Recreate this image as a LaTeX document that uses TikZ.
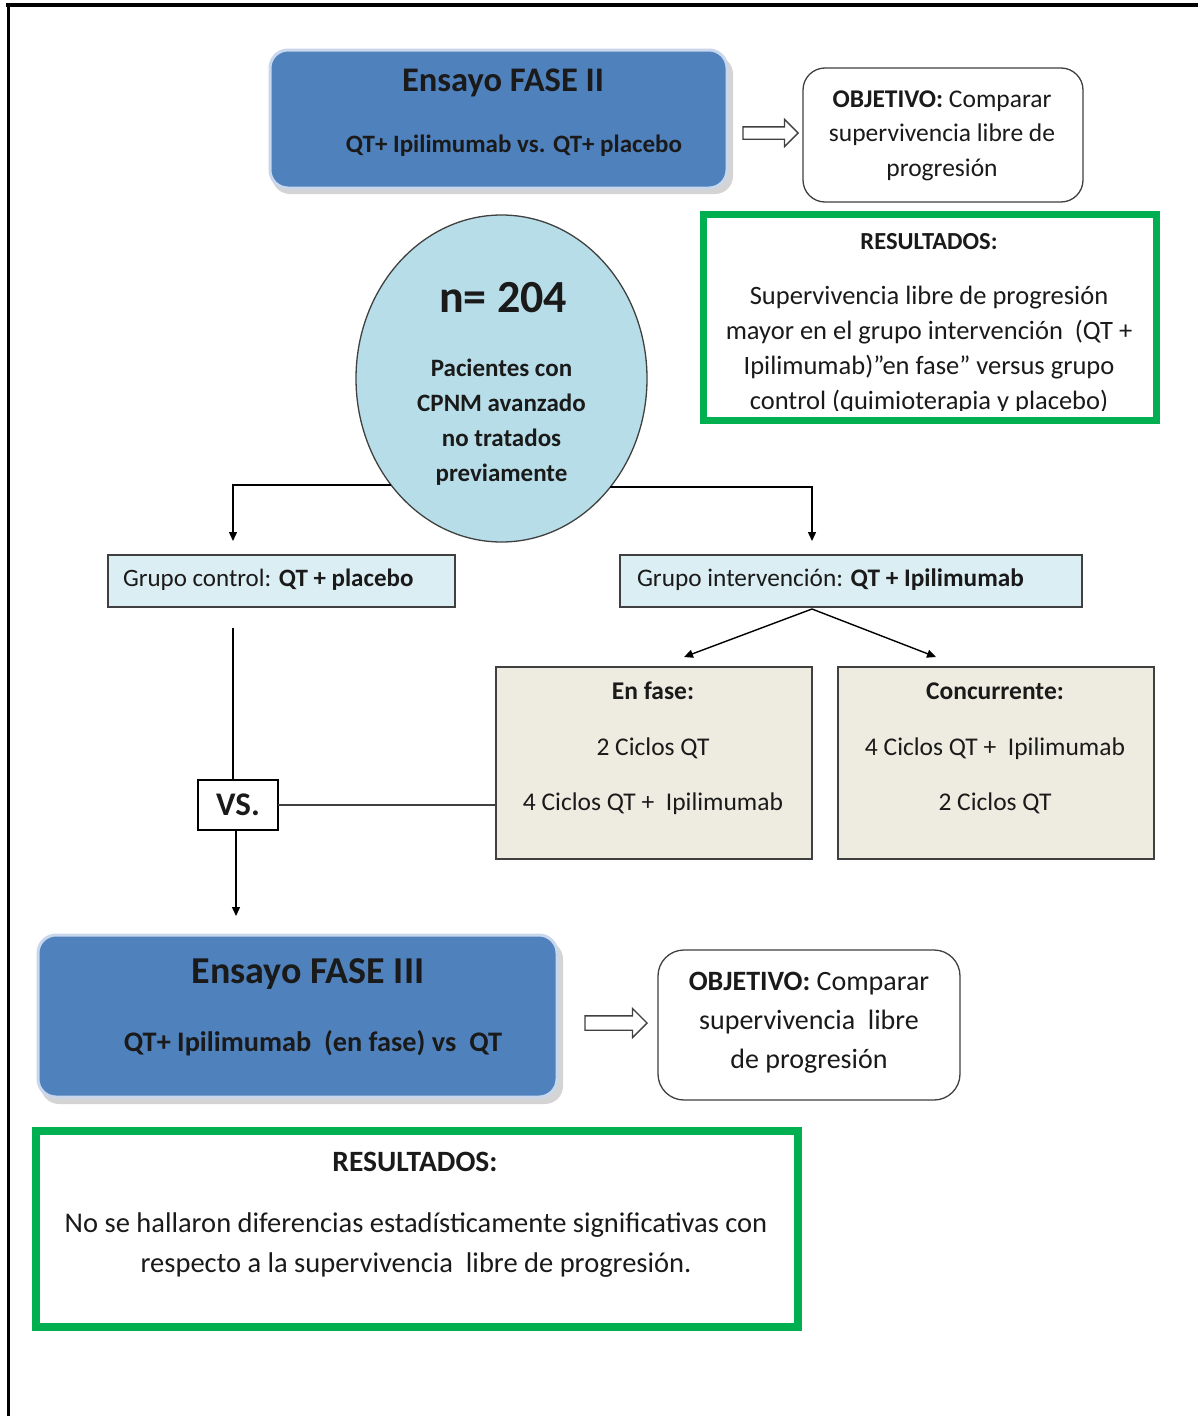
\documentclass[tikz,border=0pt]{standalone}
\usepackage{fontspec}
\setmainfont{Carlito}
\usetikzlibrary{arrows.meta,shapes.geometric,shapes.arrows,calc}
\definecolor{boxblue}{HTML}{4F81BD}
\definecolor{boxblueedge}{HTML}{C9D7EC}
\definecolor{shadowgray}{HTML}{D4D4D4}
\definecolor{okgreen}{HTML}{00B050}
\definecolor{circfill}{HTML}{B7DEE8}
\definecolor{grpfill}{HTML}{DBEEF4}
\definecolor{beige}{HTML}{EEECE1}
\definecolor{edgegray}{HTML}{404040}
\definecolor{txt}{HTML}{1A1A1A}
\newcommand{\fs}[2]{\fontsize{#1}{#2}\selectfont}
\begin{document}
\begin{tikzpicture}[x=1pt,y=-1pt,
  every node/.style={text=txt, inner sep=0pt, outer sep=0pt},
  bluebox/.style={draw=boxblueedge, line width=3, fill=boxblue, rounded corners=18, minimum width=#1},
  objbox/.style={draw=edgegray, line width=1.3, fill=white, rounded corners=22},
  greenbox/.style={draw=okgreen, line width=7},
  grpbox/.style={draw=edgegray, line width=1.2, fill=grpfill},
  beigebox/.style={draw=edgegray, line width=1.6, fill=beige, minimum width=316, minimum height=192},
  hollow/.style={shape=single arrow, draw=edgegray, line width=1.3, fill=white, single arrow head extend=7.5, inner xsep=0pt, inner ysep=5.5pt},
  conn/.style={draw=black, line width=1.4},
  tip/.style={-{Triangle[length=9,width=8]}}
]
\useasboundingbox (0,0) rectangle (1198,1416);
\fill[white] (0,0) rectangle (1198,1416);
% frame
\draw[line width=4] (6,5) -- (1198,5);
\draw[line width=3] (8,3) -- (8,1416);

% ---------- Phase II box ----------
\fill[shadowgray, rounded corners=18] (272,56) rectangle (733,194);
\node[bluebox=457, minimum height=138] (f2) at (498.5,119) {};
\node[font=\bfseries\fs{34.5}{38}] (f2t) at (503,83) {Ensayo FASE II};
\node[font=\bfseries\fs{25}{28}] (f2s) at (514,146) {QT+ Ipilimumab vs. QT+ placebo};

% objective 1
\node[objbox, minimum width=280, minimum height=134] (o1) at (943,135) {};
\node[font=\fs{25.5}{34.5}, align=center] (o1t) at (942,135.5) {\textbf{OBJETIVO:} Comparar\\supervivencia libre de\\progresión};
\node[hollow, minimum height=55] (a1) at (767.5,133) {};

% results 1
\begin{scope}
\clip (707,215) rectangle (1152,410);
\node[font=\fs{26.5}{35}, align=center] (r1t) at (929,350) {Supervivencia libre de progresión\\mayor en el grupo intervención~~(QT +\\Ipilimumab)"en fase" versus grupo\\control (quimioterapia y placebo)};
\end{scope}
\node[font=\bfseries\fs{24.5}{28}] (r1h) at (929,242) {RESULTADOS:};
\draw[greenbox] (703,214) rectangle (1156,420);

% population ellipse
\node[ellipse, draw=edgegray, line width=1.3, fill=circfill, minimum width=291, minimum height=327] (pop) at (501.5,378.5) {};
\node[font=\bfseries\fs{46}{50}] (popn) at (503,298) {n= 204};
\node[font=\bfseries\fs{25}{35}, align=center] (popt) at (501.5,422) {Pacientes con\\CPNM avanzado\\no tratados\\previamente};

% group boxes
\node[grpbox, minimum width=347, minimum height=52] (ctrl) at (281.5,581) {};
\node[font=\fs{25}{28}, anchor=west] (ctrlt) at (123,580) {Grupo control: \textbf{QT + placebo}};
\node[grpbox, minimum width=462, minimum height=52] (intv) at (851,581) {};
\node[font=\fs{25.3}{28}, anchor=west] (intvt) at (637,580) {Grupo intervención: \textbf{QT + Ipilimumab}};

\coordinate (ca) at (233,541);
\coordinate (ia) at (812,541);
\draw[conn, tip] (pop.224.5) -| (ca);
\draw[conn, tip] (pop.315.5) -| (ia);

% beige boxes
\node[beigebox] (ef) at (654,763) {};
\node[font=\fs{25.5}{55.5}, align=center] (eft) at (653,748.5) {\textbf{En fase:}\\2 Ciclos QT\\4 Ciclos QT +~~Ipilimumab};
\node[beigebox] (cc) at (996,763) {};
\node[font=\fs{25.5}{55.5}, align=center] (cct) at (995,748.5) {\textbf{Concurrente:}\\4 Ciclos QT +~~Ipilimumab\\2 Ciclos QT};

\coordinate (isplit) at (812,609);
\coordinate (efa) at (684,657);
\coordinate (cca) at (936,657);
\draw[conn, tip] (isplit) -- (efa);
\draw[conn, tip] (isplit) -- (cca);

% VS
\coordinate (cdown) at (233,628);
\node[draw=black, line width=1.5, fill=white, minimum width=80, minimum height=50, font=\bfseries\fs{33}{36}] (vs) at (238,805) {VS.};
\coordinate (f3a) at (236,916);
\draw[conn] (cdown) -- (233,780);
\draw[conn, tip] (236,830) -- (f3a);
\draw[conn, line width=1.6, draw=edgegray] (vs.east) -- (vs.east -| ef.west);

% ---------- Phase III box ----------
\fill[shadowgray, rounded corners=18] (41,941) rectangle (563,1104);
\node[bluebox=519, minimum height=162] (f3) at (297.5,1016) {};
\node[font=\bfseries\fs{38}{42}] (f3t) at (308,974) {Ensayo FASE III};
\node[font=\bfseries\fs{28.3}{32}] (f3s) at (313,1043) {QT+ Ipilimumab~~(en fase) vs~~QT};

\node[objbox, minimum width=302, minimum height=150, rounded corners=26] (o2) at (809,1025) {};
\node[font=\fs{28}{39}, align=center] (o2t) at (809,1023) {\textbf{OBJETIVO:} Comparar\\supervivencia~~libre\\de progresión};
\node[hollow, minimum height=62, inner ysep=6.5pt] (a2) at (612.5,1023) {};

% results 2
\draw[greenbox, line width=8] (36,1131) rectangle (798,1327);
\node[font=\bfseries\fs{29.5}{32}] (r2h) at (415,1162) {RESULTADOS:};
\node[font=\fs{28.5}{40}, align=center] (r2t) at (416,1245) {No se hallaron diferencias estadísticamente significativas con\\respecto a la supervivencia~~libre de progresión.};
\end{tikzpicture}
\end{document}
